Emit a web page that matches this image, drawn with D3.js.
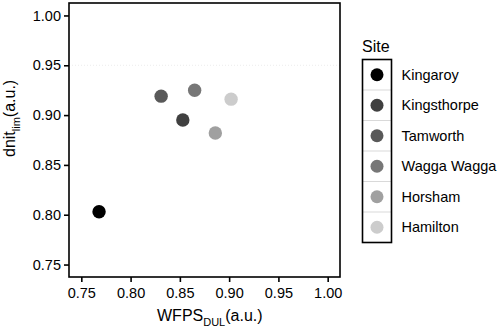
<!DOCTYPE html>
<html lang="en">
<head>
<meta charset="UTF-8">
<title>dnit vs WFPS</title>
<script src="https://d3js.org/d3.v7.min.js"></script>
<style>
    body { margin: 0; background: #fff; }
    svg { display: block; font-family: "Liberation Sans", Arial, sans-serif; }
</style>
</head>
<body>
<svg id="chart" width="500" height="331"></svg>
<script>
    const sites = ["Kingaroy", "Kingsthorpe", "Tamworth", "Wagga Wagga", "Horsham", "Hamilton"];
    const wfps = [0.768, 0.853, 0.831, 0.865, 0.886, 0.902];
    const dnit = [0.803, 0.895, 0.919, 0.925, 0.882, 0.916];
    const greys = ["#000000", "#404040", "#595959", "#777777", "#a0a0a0", "#cccccc"];
    const ticks = [0.75, 0.80, 0.85, 0.90, 0.95, 1.00];

    const svg = d3.select("#chart");
    const panel = {left: 69, top: 3, right: 340, bottom: 277};

    const x = d3.scaleLinear().domain([0.7375, 1.0125]).range([panel.left, panel.right]);
    const y = d3.scaleLinear().domain([0.7375, 1.0125]).range([panel.bottom, panel.top]);
    const color = d3.scaleOrdinal().domain(sites).range(greys);

    // faint reference line
    svg.append("line")
        .attr("x1", panel.left).attr("x2", panel.right)
        .attr("y1", y(0.95)).attr("y2", y(0.95))
        .attr("stroke", "#ececec").attr("stroke-dasharray", "1,2");

    const fmt = d3.format(".2f");

    const xAxis = svg.append("g")
        .attr("transform", `translate(0,${panel.bottom})`)
        .call(d3.axisBottom(x).tickValues(ticks).tickFormat(fmt).tickSize(5).tickPadding(6));
    const yAxis = svg.append("g")
        .attr("transform", `translate(${panel.left},0)`)
        .call(d3.axisLeft(y).tickValues(ticks).tickFormat(fmt).tickSize(5).tickPadding(3));

    [xAxis, yAxis].forEach(a => {
        a.select(".domain").remove();
        a.selectAll(".tick line").attr("stroke", "#000").attr("stroke-width", 1.6);
        a.selectAll("text").attr("fill", "#000").style("font-size", "14.5px")
            .style("font-family", "'Liberation Sans', Arial, sans-serif");
    });

    svg.append("rect")
        .attr("x", panel.left).attr("y", panel.top)
        .attr("width", panel.right - panel.left).attr("height", panel.bottom - panel.top)
        .attr("fill", "none").attr("stroke", "#000").attr("stroke-width", 1.6);

    const pts = sites.map((s, i) => ({site: s, wfps: wfps[i], dnit: dnit[i]}));
    svg.append("g").selectAll("circle")
        .data(pts)
        .join("circle")
        .attr("cx", d => x(d.wfps))
        .attr("cy", d => y(d.dnit))
        .attr("r", 6.7)
        .attr("fill", d => color(d.site));

    // axis titles
    const xt = svg.append("text")
        .attr("x", 157).attr("y", 321)
        .style("font-size", "16px").attr("fill", "#000");
    xt.append("tspan").text("WFPS");
    xt.append("tspan").attr("dy", 5).style("font-size", "11px").text("DUL");
    xt.append("tspan").attr("dy", -5).text("(a.u.)");

    const yt = svg.append("text")
        .attr("transform", "translate(15,157) rotate(-90)")
        .style("font-size", "16px").attr("fill", "#000");
    yt.append("tspan").text("dnit");
    yt.append("tspan").attr("dy", 5).style("font-size", "11px").text("lim");
    yt.append("tspan").attr("dy", -5).text("(a.u.)");

    // legend
    const leg = {x: 362.5, y: 59.5, w: 29, key: 30.5};
    svg.append("text").attr("x", 362).attr("y", 52)
        .style("font-size", "16px").attr("fill", "#000").text("Site");

    const keys = svg.append("g").selectAll("g")
        .data(sites)
        .join("g")
        .attr("transform", (d, i) => `translate(${leg.x},${leg.y + i * leg.key})`);
    keys.filter((d, i) => i > 0).append("line")
        .attr("x1", 0).attr("x2", leg.w).attr("y1", 0).attr("y2", 0)
        .attr("stroke", "#d9d9d9").attr("stroke-width", 1);
    keys.append("circle")
        .attr("cx", leg.w / 2).attr("cy", leg.key / 2)
        .attr("r", 6.5).attr("fill", d => color(d));
    keys.append("text")
        .attr("x", 39).attr("y", leg.key / 2).attr("dy", "0.35em")
        .style("font-size", "14.5px").attr("fill", "#000").text(d => d);

    svg.append("rect")
        .attr("x", leg.x).attr("y", leg.y)
        .attr("width", leg.w).attr("height", leg.key * sites.length)
        .attr("fill", "none").attr("stroke", "#000").attr("stroke-width", 1.6);
</script>
</body>
</html>
